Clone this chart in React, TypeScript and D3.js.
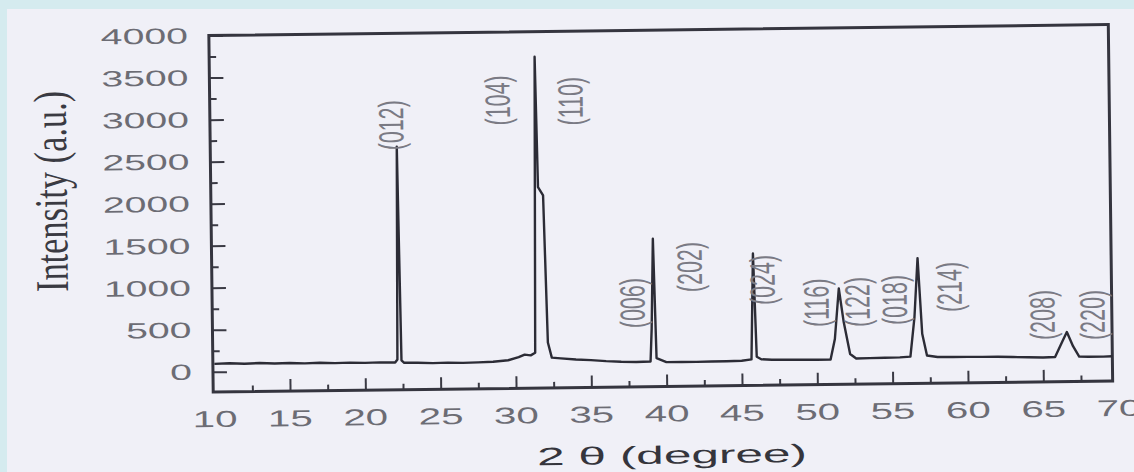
import { useEffect, useRef } from 'react';
import * as d3 from 'd3';

// 2θ (degree) and intensity (a.u.)
const twoTheta = [
  10, 11, 12, 13, 14, 15, 16, 17, 18, 19, 20, 21, 22.0, 22.15, 22.28, 22.42, 22.6,
  23.5, 24.5, 25.5, 26.5, 27.5, 28.5, 29.5, 30.2, 30.6, 31.0, 31.3, 31.5, 31.62, 31.95,
  32.15, 32.4, 33, 34, 35, 36, 37, 38, 38.95, 39.05, 39.2, 39.35, 40, 41, 42, 43, 44,
  45, 45.65, 45.83, 46.0, 46.3, 47, 48, 49, 50, 50.9, 51.2, 51.5, 51.8, 52.2, 52.6,
  53.5, 54.5, 55.5, 56.2, 56.5, 56.75, 57.0, 57.3, 58, 59, 60, 61, 62, 63, 64, 65,
  65.8, 66.3, 66.6, 67.0, 67.4, 68, 69, 69.6,
];
const intensity = [
  95, 100, 92, 98, 90, 95, 88, 92, 86, 90, 85, 88, 85, 120, 2650, 110, 80,
  78, 72, 76, 70, 74, 80, 95, 130, 160, 150, 180, 3700, 2150, 2050,
  300, 120, 110, 95, 85, 70, 60, 55, 60, 450, 1520, 100, 50, 50, 48, 50, 52,
  55, 70, 1330, 100, 70, 62, 60, 58, 56, 58, 300, 900, 500, 120, 65,
  68, 70, 72, 80, 550, 1250, 350, 90, 72, 70, 68, 66, 65, 60, 55, 50,
  55, 240, 350, 180, 55, 52, 52, 55,
];

const yMajor = [0, 500, 1000, 1500, 2000, 2500, 3000, 3500, 4000];
const yMinor = [250, 750, 1250, 1750, 2250, 2750, 3250, 3750];
const xLabels = [10, 15, 20, 25, 30, 35, 40, 45, 50, 55, 60, 65, 70];
const xMajor = [15, 20, 25, 30, 35, 40, 45, 50, 55, 60, 65];
const xMinor = [12.5, 17.5, 22.5, 27.5, 32.5, 37.5, 42.5, 47.5, 52.5, 57.5, 62.5, 67.5];

// Miller indices and where each label's lower end sits
const hkl = ['(012)', '(104)', '(110)', '(006)', '(202)', '(024)', '(116)', '(122)', '(018)', '(214)', '(208)', '(220)'];
const hklTheta = [21.93, 29.01, 33.85, 37.8, 41.62, 46.45, 50.01, 52.73, 55.2, 58.85, 65.0, 68.32];
const hklBase = [2610, 2890, 2880, 460, 880, 715, 446, 440, 458, 605, 259, 252];

export default function App() {
  const svgRef = useRef<SVGSVGElement>(null);

  useEffect(() => {
    if (!svgRef.current) return;
    const width = 1134;
    const height = 472;
    const frame = { left: 211, right: 1110.5, top: 30, bottom: 386.5 };

    const svg = d3.select(svgRef.current);
    svg.selectAll('*').remove();

    // scanned page: cyan border, off-white paper
    svg.append('rect').attr('width', width).attr('height', height).attr('fill', '#d5ebef');
    svg.append('rect')
      .attr('x', 7).attr('y', 9)
      .attr('width', width - 7).attr('height', height - 9)
      .attr('fill', '#f0f0f7');

    // the scan is tilted a little
    const g = svg.append('g').attr('transform', 'rotate(-0.7 665 208)');

    const x = d3.scaleLinear().domain([9.9, 69.6]).range([frame.left, frame.right]);
    const y = d3.scaleLinear().domain([-240, 4000]).range([frame.bottom, frame.top]);

    // left ticks (inside)
    const yAxis = g.append('g').attr('transform', `translate(${frame.left},0)`);
    yAxis.call(d3.axisLeft(y).tickValues(yMajor).tickSize(-14).tickFormat(() => ''));
    yAxis.select('.domain').remove();
    const yAxisMinor = g.append('g').attr('transform', `translate(${frame.left},0)`);
    yAxisMinor.call(d3.axisLeft(y).tickValues(yMinor).tickSize(-7).tickFormat(() => ''));
    yAxisMinor.select('.domain').remove();

    // bottom ticks (inside)
    const xAxis = g.append('g').attr('transform', `translate(0,${frame.bottom})`);
    xAxis.call(d3.axisBottom(x).tickValues(xMajor).tickSize(-12).tickFormat(() => ''));
    xAxis.select('.domain').remove();
    const xAxisMinor = g.append('g').attr('transform', `translate(0,${frame.bottom})`);
    xAxisMinor.call(d3.axisBottom(x).tickValues(xMinor).tickSize(-6).tickFormat(() => ''));
    xAxisMinor.select('.domain').remove();

    g.selectAll('.tick line').attr('stroke', '#3a3a44').attr('stroke-width', 2);

    // frame
    g.append('rect')
      .attr('x', frame.left).attr('y', frame.top)
      .attr('width', frame.right - frame.left).attr('height', frame.bottom - frame.top)
      .attr('fill', 'none').attr('stroke', '#35353f').attr('stroke-width', 3);

    // y tick labels
    g.append('g')
      .selectAll('text')
      .data(yMajor)
      .join('text')
      .attr('transform', (d) => `translate(${frame.left - 21},${y(d)}) scale(1.78,1)`)
      .attr('text-anchor', 'end')
      .attr('dominant-baseline', 'central')
      .attr('font-family', 'Liberation Sans, Arial, sans-serif')
      .attr('font-size', 22)
      .attr('fill', '#6c6c74')
      .text((d) => d);

    // x tick labels
    g.append('g')
      .selectAll('text')
      .data(xLabels)
      .join('text')
      .attr('transform', (d) => `translate(${x(d)},${frame.bottom + 27}) scale(1.75,1)`)
      .attr('text-anchor', 'middle')
      .attr('dominant-baseline', 'central')
      .attr('font-family', 'Liberation Sans, Arial, sans-serif')
      .attr('font-size', 23)
      .attr('fill', '#6c6c74')
      .text((d) => d);

    // axis titles
    g.append('text')
      .attr('transform', 'translate(669,455) scale(1.98,1)')
      .attr('text-anchor', 'middle')
      .attr('dominant-baseline', 'central')
      .attr('font-family', 'Liberation Sans, Arial, sans-serif')
      .attr('font-size', 25)
      .attr('fill', '#35353c')
      .text('2 θ (degree)');

    g.append('text')
      .attr('transform', 'translate(51,184) rotate(-90) scale(1.32,1.8)')
      .attr('text-anchor', 'middle')
      .attr('dominant-baseline', 'central')
      .attr('font-family', 'Liberation Serif, Times New Roman, serif')
      .attr('font-size', 26)
      .attr('fill', '#3a3a42')
      .text('Intensity (a.u.)');

    // diffraction pattern
    const points = twoTheta.map((t, i) => [t, intensity[i]] as [number, number]);
    const line = d3.line<[number, number]>()
      .x((d) => x(d[0]))
      .y((d) => y(d[1]));
    g.append('path')
      .datum(points)
      .attr('d', line)
      .attr('fill', 'none')
      .attr('stroke', '#2c2c36')
      .attr('stroke-width', 2.4)
      .attr('stroke-linejoin', 'round');

    // peak indices
    g.append('g')
      .selectAll('text')
      .data(hkl)
      .join('text')
      .attr('transform', (d, i) => `translate(${x(hklTheta[i])},${y(hklBase[i])}) rotate(-90) scale(1.07,1.75)`)
      .attr('text-anchor', 'start')
      .attr('dominant-baseline', 'central')
      .attr('font-family', 'Liberation Sans, Arial, sans-serif')
      .attr('font-size', 20)
      .attr('fill', '#7a7a84')
      .text((d) => d);
  }, []);

  return (
    <svg
      ref={svgRef}
      width={1134}
      height={472}
      style={{ position: 'absolute', left: 0, top: 0, display: 'block' }}
    />
  );
}
